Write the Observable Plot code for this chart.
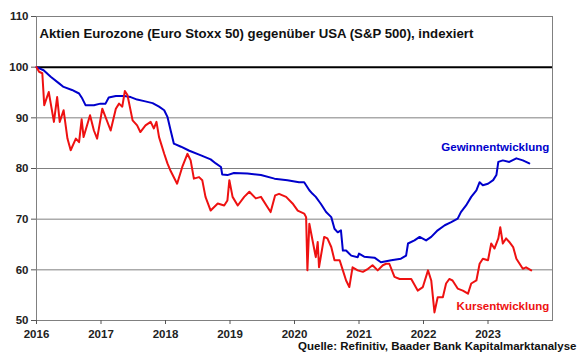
<!DOCTYPE html>
<html><head><meta charset="utf-8">
<script src="https://cdn.jsdelivr.net/npm/d3@7"></script>
<script src="https://cdn.jsdelivr.net/npm/@observablehq/plot@0.6"></script>
<style>body{margin:0;background:#fff}</style>
</head><body><div id="chart"></div>
<script>
const years = [2016, 2017, 2018, 2019, 2020, 2021, 2022, 2023];
const yTicks = [50, 60, 70, 80, 90, 100, 110];
const gridValues = [60, 70, 80, 90];
const title = "Aktien Eurozone (Euro Stoxx 50) gegenüber USA (S&P 500), indexiert";
const source = "Quelle: Refinitiv, Baader Bank Kapitalmarktanalyse";
const seriesNames = ["Gewinnentwicklung", "Kursentwicklung"];

const gewinn = [[2016.0,100],[2016.11,99.4],[2016.22,98.1],[2016.35,96.8],[2016.42,96.1],[2016.55,95.5],[2016.66,94.8],[2016.71,93.8],[2016.76,92.5],[2016.89,92.5],[2016.99,92.8],[2017.07,92.8],[2017.12,94],[2017.23,94.3],[2017.36,94.3],[2017.46,94.1],[2017.56,93.6],[2017.67,93.3],[2017.8,92.9],[2017.9,92.2],[2017.98,91.5],[2018.03,90.2],[2018.08,87.5],[2018.13,84.9],[2018.24,84.3],[2018.37,83.5],[2018.55,82.6],[2018.7,81.8],[2018.78,81],[2018.86,80.3],[2018.88,78.8],[2018.96,78.7],[2019.06,79.1],[2019.27,79],[2019.48,78.7],[2019.69,78],[2019.89,77.7],[2020.07,77.3],[2020.15,77.3],[2020.23,75.7],[2020.28,75],[2020.33,74.4],[2020.41,73],[2020.49,71.4],[2020.57,70.4],[2020.62,68.1],[2020.67,67.4],[2020.72,67.8],[2020.75,63.8],[2020.8,63.8],[2020.88,62.8],[2020.98,62.5],[2021.0,63.2],[2021.08,62.6],[2021.24,62.4],[2021.34,61.5],[2021.5,61.9],[2021.65,62.2],[2021.73,62.8],[2021.76,65.2],[2021.86,65.8],[2021.94,66.5],[2022.04,65.8],[2022.12,66.5],[2022.22,67.8],[2022.33,68.8],[2022.43,69.4],[2022.53,70.1],[2022.58,71.4],[2022.66,72.7],[2022.74,74.4],[2022.82,75.7],[2022.87,77.3],[2022.92,76.7],[2023.0,77],[2023.08,77.7],[2023.13,78.7],[2023.16,81.3],[2023.23,81.6],[2023.33,81.3],[2023.44,82],[2023.54,81.6],[2023.64,81]];

const kurs = [[2016.0,100],[2016.04,99.1],[2016.09,98.8],[2016.12,92.5],[2016.19,95.1],[2016.27,89.2],[2016.32,94.1],[2016.36,89.2],[2016.42,91.5],[2016.48,85.9],[2016.53,83.6],[2016.61,85.9],[2016.66,85.2],[2016.70,89.7],[2016.73,86.2],[2016.83,90.5],[2016.89,87.5],[2016.94,85.9],[2017.02,91.8],[2017.15,87.5],[2017.23,91.8],[2017.28,92.8],[2017.33,92.2],[2017.37,95.3],[2017.41,94.5],[2017.49,89.5],[2017.56,88.5],[2017.61,87.2],[2017.69,88.5],[2017.77,89.2],[2017.82,87.9],[2017.86,89.2],[2017.90,86.2],[2017.98,82.9],[2018.03,81],[2018.08,79.5],[2018.18,77],[2018.26,80.3],[2018.34,82.9],[2018.39,81.6],[2018.44,78],[2018.52,78.3],[2018.57,77.7],[2018.62,74.4],[2018.70,71.7],[2018.81,73.1],[2018.91,72.7],[2018.96,73.7],[2018.99,77.7],[2019.04,74.4],[2019.12,72.7],[2019.22,74.4],[2019.30,75.4],[2019.40,74.1],[2019.48,74.4],[2019.58,72.4],[2019.63,71.4],[2019.70,74.7],[2019.76,75],[2019.87,74.4],[2019.97,73.1],[2020.05,71.7],[2020.15,71.1],[2020.18,70.4],[2020.20,59.9],[2020.23,69.1],[2020.28,65.8],[2020.33,62.5],[2020.36,65.5],[2020.38,60.5],[2020.46,66.5],[2020.51,66.2],[2020.57,64.5],[2020.62,61.9],[2020.70,61.9],[2020.75,59.9],[2020.80,57.9],[2020.85,56.6],[2020.90,60.5],[2020.98,59.9],[2021.06,59.6],[2021.14,60.2],[2021.21,60.9],[2021.29,59.9],[2021.37,60.9],[2021.42,61.2],[2021.47,61.2],[2021.55,58.6],[2021.63,58.2],[2021.70,58.2],[2021.81,58.2],[2021.91,55.9],[2021.99,56.6],[2022.07,59.9],[2022.12,57.9],[2022.17,51.6],[2022.22,54.6],[2022.30,54.6],[2022.35,57.3],[2022.40,58.2],[2022.45,57.9],[2022.53,56.3],[2022.61,55.9],[2022.69,55.3],[2022.74,57.3],[2022.82,57.9],[2022.87,61.2],[2022.92,62.2],[2023.00,61.9],[2023.05,65.2],[2023.10,64.2],[2023.16,66.2],[2023.19,68.4],[2023.23,65.2],[2023.28,66.2],[2023.33,65.5],[2023.39,64.5],[2023.44,62.2],[2023.49,61.2],[2023.54,60.2],[2023.59,60.5],[2023.67,59.9]];

const labels = [
  {t: 2023.95, v: 84.2, text: seriesNames[0], color: "#0000cc"},
  {t: 2023.95, v: 52.8, text: seriesNames[1], color: "#ee1111"}
];

const chart = Plot.plot({
  width: 580, height: 358,
  marginLeft: 36, marginRight: 28, marginTop: 16, marginBottom: 38,
  style: {fontFamily: "'Liberation Sans', Arial, sans-serif", fontWeight: "bold", fontSize: "11.5px", color: "#222", background: "#fff"},
  x: {domain: [2016, 2024], label: null},
  y: {domain: [50, 110], label: null},
  marks: [
    Plot.ruleY(gridValues, {stroke: "#808080", strokeWidth: 1, strokeOpacity: 1}),
    Plot.ruleY([100], {stroke: "#000", strokeWidth: 2}),
    Plot.frame({stroke: "#808080", strokeWidth: 1}),
    Plot.axisX({ticks: years, tickFormat: d => String(d), tickSize: 4, tickPadding: 5, stroke: "#555", fontSize: 11.5}),
    Plot.axisY({ticks: yTicks, tickSize: 5, tickPadding: 3, stroke: "#555", fontSize: 11.5}),
    Plot.line(gewinn, {x: d => d[0], y: d => d[1], stroke: "#0000cc", strokeWidth: 2}),
    Plot.line(kurs, {x: d => d[0], y: d => d[1], stroke: "#ee1111", strokeWidth: 2}),
    Plot.text(labels, {x: "t", y: "v", text: "text", fill: "color", textAnchor: "end", fontSize: 11.5, fontWeight: "bold"}),
    Plot.text([title], {frameAnchor: "top-left", dx: 3, dy: 12, textAnchor: "start", fontSize: 13.2, fontWeight: "bold", fill: "#111"}),
    Plot.text([source], {frameAnchor: "bottom-right", dx: 24, dy: 29, textAnchor: "end", fontSize: 11.5, fontWeight: "bold", fill: "#111"})
  ]
});
document.getElementById("chart").appendChild(chart);
</script>
</body></html>
